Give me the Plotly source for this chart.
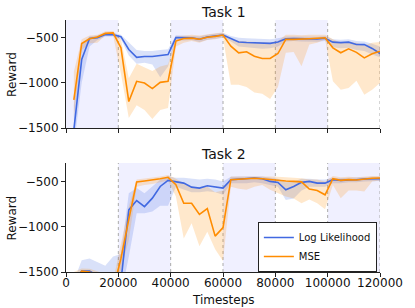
import plotly.graph_objects as go

timesteps = [3000 * k for k in range(1, 41)]

# Task 1
t1_ll = [-1520, -744, -512, -503, -467, -470, -492, -633, -720, -710, -711, -704, -689,
         -503, -505, -504, -520, -496, -485, -474, -512, -550, -556, -560, -568, -566,
         -550, -515, -513, -515, -520, -518, -510, -552, -558, -552, -578, -580, -622, -678]
t1_ll_lo = [-1700, -1000, -600, -530, -490, -490, -520, -700, -790, -780, -800, -940, -820,
            -530, -535, -530, -550, -525, -515, -500, -545, -600, -610, -615, -625, -620,
            -600, -545, -540, -545, -550, -548, -540, -610, -620, -615, -640, -650, -690, -720]
t1_ll_hi = [-1250, -580, -490, -480, -450, -452, -470, -560, -640, -650, -650, -640, -630,
            -475, -480, -478, -490, -470, -460, -450, -485, -505, -510, -515, -520, -520,
            -510, -490, -490, -490, -495, -493, -485, -520, -525, -520, -540, -545, -570, -600]
t1_mse = [-1190, -567, -515, -496, -456, -450, -615, -1208, -985, -1004, -1065, -996, -985,
          -540, -512, -508, -520, -498, -489, -474, -596, -670, -659, -707, -733, -733,
          -678, -522, -522, -522, -515, -510, -504, -615, -670, -626, -665, -726, -681, -652]
t1_mse_lo = [-1380, -640, -565, -560, -480, -478, -900, -1390, -1250, -1300, -1400, -1300, -1280,
             -600, -560, -540, -560, -530, -520, -505, -1022, -1022, -1048, -1107, -1122, -1181,
             -1048, -670, -660, -819, -578, -559, -522, -985, -1078, -1059, -978, -1133, -1078, -1004]
t1_mse_hi = [-880, -520, -480, -470, -432, -430, -520, -950, -790, -830, -870, -820, -800,
             -490, -480, -470, -480, -465, -455, -445, -520, -540, -545, -555, -560, -560,
             -540, -470, -470, -475, -470, -470, -470, -520, -560, -550, -560, -590, -560, -550]

# Task 2
t2_ll = [-1620, -1490, -1490, -1540, -1560, -1560, -1600, -815, -711, -778, -685, -556, -489,
         -500, -519, -563, -574, -548, -563, -574, -481, -474, -470, -463, -470, -500,
         -511, -593, -556, -511, -500, -519, -519, -481, -489, -481, -481, -474, -470, -470]
t2_ll_lo = [-1750, -1560, -1560, -1650, -1700, -1700, -1750, -1333, -852, -852, -833, -770, -770,
            -560, -590, -620, -620, -610, -620, -648, -520, -520, -520, -510, -520, -540,
            -560, -704, -690, -600, -560, -560, -560, -520, -520, -510, -510, -500, -495, -495]
t2_ll_hi = [-1600, -1370, -1352, -1390, -1430, -1330, -1300, -630, -574, -630, -560, -481, -444,
            -460, -460, -470, -480, -470, -480, -500, -450, -445, -445, -440, -445, -460,
            -470, -510, -500, -470, -470, -480, -480, -460, -465, -460, -460, -455, -450, -450]
t2_mse = [-1600, -1490, -1500, -1540, -1580, -1700, -1350, -920, -507, -495, -485, -470, -455,
          -537, -741, -741, -865, -800, -1104, -1010, -481, -474, -470, -465, -470, -480,
          -489, -495, -500, -505, -585, -600, -648, -470, -489, -480, -485, -474, -465, -463]
t2_mse_lo = [-1700, -1530, -1540, -1600, -1650, -1800, -1480, -1150, -560, -540, -530, -510, -490,
             -667, -1130, -963, -1215, -1056, -1250, -1378, -560, -580, -593, -560, -540, -593,
             -630, -667, -690, -741, -700, -740, -807, -540, -685, -600, -600, -611, -500, -490]
t2_mse_hi = [-1500, -1460, -1465, -1490, -1520, -1600, -1200, -780, -480, -470, -460, -445, -430,
             -470, -520, -560, -570, -560, -620, -600, -445, -445, -440, -440, -445, -445,
             -450, -455, -460, -465, -480, -480, -500, -440, -455, -450, -455, -445, -440, -440]

series_names = ["Log Likelihood", "MSE"]
x_ticks = [0, 20000, 40000, 60000, 80000, 100000, 120000]
y_ticks = [-500, -1000, -1500]
y_ticktext = ["\u2212500", "\u22121000", "\u22121500"]

BLUE = "#4169E1"
ORANGE = "#FF8C00"
BLUE_FILL = "rgba(65,105,225,0.2)"
ORANGE_FILL = "rgba(255,140,0,0.2)"

fig = go.Figure()

panels = [
    ("x", "y", [(t1_ll, t1_ll_lo, t1_ll_hi), (t1_mse, t1_mse_lo, t1_mse_hi)], False),
    ("x2", "y2", [(t2_ll, t2_ll_lo, t2_ll_hi), (t2_mse, t2_mse_lo, t2_mse_hi)], True),
]
colors = [BLUE, ORANGE]
fills = [BLUE_FILL, ORANGE_FILL]

for xa, ya, data, legend in panels:
    for (mean, lo, hi), fc in zip(data, fills):
        fig.add_trace(go.Scatter(x=timesteps, y=lo, xaxis=xa, yaxis=ya, mode="lines",
                                 line=dict(width=0), showlegend=False, hoverinfo="skip"))
        fig.add_trace(go.Scatter(x=timesteps, y=hi, xaxis=xa, yaxis=ya, mode="lines",
                                 line=dict(width=0), fill="tonexty", fillcolor=fc,
                                 showlegend=False, hoverinfo="skip"))
    for (mean, lo, hi), c, name in zip(data, colors, series_names):
        fig.add_trace(go.Scatter(x=timesteps, y=mean, xaxis=xa, yaxis=ya, mode="lines",
                                 line=dict(color=c, width=1.6), name=name, showlegend=legend))

shapes = []
region_fill = "rgba(40,40,255,0.07)"
for x0 in [0, 40000, 80000]:
    shapes.append(dict(type="rect", xref="x", yref="y domain", x0=x0, x1=x0 + 20000, y0=0, y1=1,
                       fillcolor=region_fill, line=dict(width=0), layer="below"))
for x0 in [20000, 60000, 100000]:
    shapes.append(dict(type="rect", xref="x2", yref="y2 domain", x0=x0, x1=x0 + 20000, y0=0, y1=1,
                       fillcolor=region_fill, line=dict(width=0), layer="below"))
for xr, yr in [("x", "y domain"), ("x2", "y2 domain")]:
    for xv in x_ticks[1:]:
        shapes.append(dict(type="line", xref=xr, yref=yr, x0=xv, x1=xv, y0=0, y1=1,
                           line=dict(color="#aaaaaa", width=1, dash="dot"), layer="below"))

axis_common = dict(showgrid=False, zeroline=False, showline=True, linecolor="#222222",
                   linewidth=1, ticks="outside", ticklen=4, tickcolor="#222222",
                   tickfont=dict(size=12, color="#111111"))

fig.update_layout(
    width=415, height=308,
    margin=dict(l=66, r=29, t=20, b=36),
    paper_bgcolor="white", plot_bgcolor="white",
    font=dict(family="DejaVu Sans", color="#111111"),
    shapes=shapes,
    xaxis=dict(domain=[0, 1], anchor="y", range=[0, 120000], tickvals=x_ticks,
               showticklabels=False, **axis_common),
    yaxis=dict(domain=[0.5714, 1], anchor="x", range=[-1500, -308], tickvals=y_ticks,
               ticktext=y_ticktext, **axis_common),
    xaxis2=dict(domain=[0, 1], anchor="y2", range=[0, 120000], tickvals=x_ticks,
                ticktext=[str(v) for v in x_ticks], ticklabelstandoff=-4, **axis_common),
    yaxis2=dict(domain=[0, 0.4325], anchor="x2", range=[-1500, -297], tickvals=y_ticks,
                ticktext=y_ticktext, **axis_common),
    legend=dict(x=0.99, y=0.0, xanchor="right", yanchor="bottom", traceorder="normal",
                bgcolor="white", bordercolor="#222222", borderwidth=1,
                font=dict(size=10), tracegroupgap=0, itemwidth=30),
    annotations=[
        dict(text="Task 1", x=0.5, y=1.032, xref="paper", yref="paper", showarrow=False,
             font=dict(size=14), xanchor="center", yanchor="middle"),
        dict(text="Task 2", x=0.5, y=0.468, xref="paper", yref="paper", showarrow=False,
             font=dict(size=14), xanchor="center", yanchor="middle"),
        dict(text="Reward", x=-0.172, y=0.786, xref="paper", yref="paper", showarrow=False,
             textangle=-90, font=dict(size=12), xanchor="center", yanchor="middle"),
        dict(text="Reward", x=-0.172, y=0.216, xref="paper", yref="paper", showarrow=False,
             textangle=-90, font=dict(size=12), xanchor="center", yanchor="middle"),
        dict(text="Timesteps", x=0.5, y=-0.11, xref="paper", yref="paper", showarrow=False,
             font=dict(size=12), xanchor="center", yanchor="middle"),
    ],
)

fig.write_html("out.html", config={"displayModeBar": False},
               post_script="document.body.style.margin='0';document.body.style.overflow='hidden';")
